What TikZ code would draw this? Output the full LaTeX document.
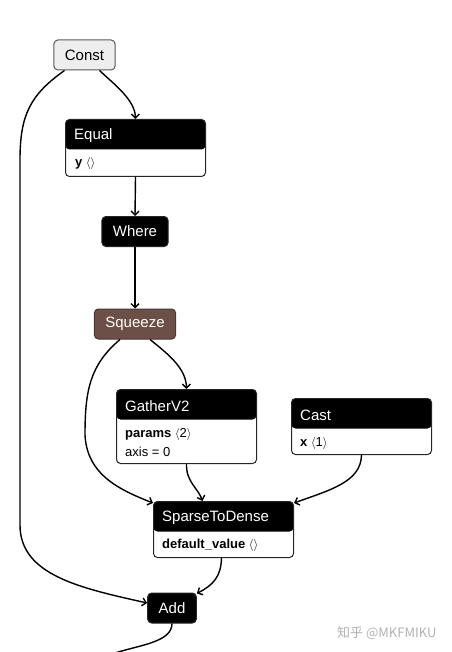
\documentclass[tikz,border=0pt]{standalone}
\usepackage{fontspec}
\setmainfont{Liberation Sans}
\newfontfamily\cjk{Noto Sans CJK SC}
\usetikzlibrary{arrows.meta}

\definecolor{constfill}{HTML}{EEEEEE}
\definecolor{shapefill}{HTML}{6C4F47}

\tikzset{
  op/.style={draw=black!85, line width=1pt, fill=black, text=white, rounded corners=4pt, minimum height=30pt, inner xsep=11pt, font=\fontsize{15}{18}\selectfont},
  opattr/.style={draw=black!85, line width=1pt, fill=white, rounded corners=4pt, anchor=north west, inner sep=0pt, minimum width=140pt,
    path picture={\fill[black] (path picture bounding box.north west) rectangle ([yshift=-30pt]path picture bounding box.north east);}},
  title/.style={anchor=west, text=white, inner sep=0pt, font=\fontsize{15}{18}\selectfont},
  attr/.style={anchor=west, inner sep=0pt, font=\fontsize{13}{15}\selectfont},
  link/.style={-{Straight Barb[length=4pt,width=8pt]}, line width=1.4pt},
}

\begin{document}
\begin{tikzpicture}[x=1pt, y=-1pt]
    \useasboundingbox (0,0) rectangle (451,652);

    \node[op, fill=constfill, text=black, draw=black!65] (const) at (84.5,55) {Const};
    \node[opattr, minimum height=57pt] (equal) at (65,119) {};
    \node[title] (equaltitle) at (74,136) {Equal};
    \node[attr] (equaly) at (75,164) {\textbf{y}~$\langle\rangle$};
    \node[op] (where) at (135,231.5) {Where};
    \node[op, fill=shapefill, draw=shapefill!70!black] (squeeze) at (135,324) {Squeeze};
    \node[opattr, minimum height=74pt] (gather) at (116,389) {};
    \node[title] (gathertitle) at (125,406) {GatherV2};
    \node[attr] (gatherparams) at (125,434) {\textbf{params}~$\langle$2$\rangle$};
    \node[attr] (gatheraxis) at (125,452) {axis = 0};
    \node[opattr, minimum height=56pt] (cast) at (291,398) {};
    \node[title] (casttitle) at (300,415) {Cast};
    \node[attr] (castx) at (300,443) {\textbf{x}~$\langle$1$\rangle$};
    \node[opattr, minimum height=56pt] (std) at (153,501) {};
    \node[title] (stdtitle) at (162,518) {SparseToDense};
    \node[attr] (stddefault) at (162,545) {\textbf{default\_value}~$\langle\rangle$};
    \node[op] (add) at (172,608) {Add};
    \coordinate (out) at (115,653);

    \draw[link] ([xshift=15pt]const.south) .. controls (115,85) and (135,100) .. (equal.north);
    \draw[link] ([xshift=-20pt]const.south) .. controls (30,95) and (20,115) .. (20,160) -- (20,525) .. controls (20,575) and (80,588) .. ([yshift=5pt]add.west);
    \draw[link] (equal.south) -- (where.north);
    \draw[link] (where.south) -- (squeeze.north);
    \draw[link] ([xshift=15pt]squeeze.south) .. controls (168,354) and (186,368) .. (gather.north);
    \draw[link] ([xshift=-15pt]squeeze.south) .. controls (90,365) and (85,390) .. (85,435) .. controls (87,475) and (120,490) .. ([yshift=-2pt]std.north west);
    \draw[link] (gather.south) .. controls (186,482) and (198,488) .. ([xshift=-21pt]std.north);
    \draw[link] (cast.south) .. controls (361,482) and (330,490) .. ([yshift=-2pt]std.north east);
    \draw[link] ([xshift=-2pt]std.south) .. controls (221,577) and (213,585) .. ([yshift=-1pt]add.north east);
    \draw[line width=1.4pt] (add.south) .. controls (172,642) and (140,645) .. (out);

    \node[anchor=west, inner sep=0pt, text=black!30, font=\cjk\fontsize{13}{15}\selectfont] (mark) at (337,633) {知乎 @MKFMIKU};
\end{tikzpicture}
\end{document}
